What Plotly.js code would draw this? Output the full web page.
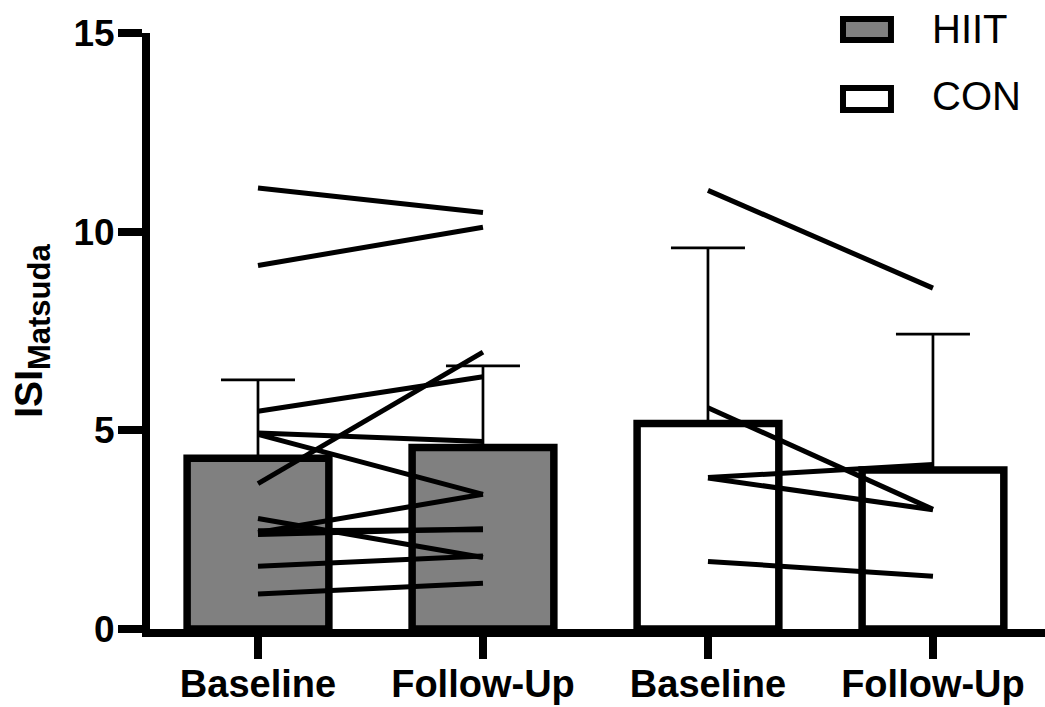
<!DOCTYPE html>
<html>
<head>
<meta charset="utf-8">
<script src="https://cdn.plot.ly/plotly-3.0.1.min.js"></script>
<style>html,body{margin:0;padding:0;background:#fff;}#chart{width:1045px;height:707px;}</style>
</head>
<body>
<div id="chart"></div>
<script>
// ---- data ----
const tickLabels = ['Baseline', 'Follow-Up', 'Baseline', 'Follow-Up'];
const groups = ['HIIT', 'CON'];
const hiitMean = [4.3, 4.57];
const hiitErr = [1.97, 2.05];
const conMean = [5.17, 4.0];
const conErr = [4.42, 3.42];
const hiitBaseline = [11.1, 9.15, 5.48, 4.93, 4.9, 3.66, 2.78, 2.43, 2.47, 2.38, 1.58, 0.88];
const hiitFollowUp = [10.48, 10.11, 6.35, 4.72, 3.39, 6.97, 1.80, 3.39, 2.5, 2.52, 1.84, 1.15];
const conBaseline = [11.04, 5.57, 3.81, 3.8, 1.7];
const conFollowUp = [8.58, 3.01, 4.14, 3.0, 1.33];

const FONT = 'Arial, "Liberation Sans", sans-serif';
const barW = 0.63;

function pairs(b, f, x0, x1) {
  const xs = [], ys = [];
  for (let i = 0; i < b.length; i++) {
    xs.push(x0, x1, null);
    ys.push(b[i], f[i], null);
  }
  return {xs, ys};
}
const hp = pairs(hiitBaseline, hiitFollowUp, 0, 1);
const cp = pairs(conBaseline, conFollowUp, 2, 3);

const traces = [
  {
    type: 'bar', name: groups[0], x: [0, 1], y: hiitMean, width: barW,
    marker: {color: '#808080', line: {color: '#000', width: 7.5}},
    error_y: {type: 'data', symmetric: false, array: hiitErr, arrayminus: [0, 0],
      color: '#000', thickness: 2.7, width: 37},
    showlegend: false, cliponaxis: false
  },
  {
    type: 'bar', name: groups[1], x: [2, 3], y: conMean, width: barW,
    marker: {color: '#ffffff', line: {color: '#000', width: 7.5}},
    error_y: {type: 'data', symmetric: false, array: conErr, arrayminus: [0, 0],
      color: '#000', thickness: 2.7, width: 37},
    showlegend: false, cliponaxis: false
  },
  {
    type: 'scatter', mode: 'lines', x: hp.xs, y: hp.ys, connectgaps: false,
    line: {color: '#000', width: 5}, showlegend: false, cliponaxis: false, hoverinfo: 'skip'
  },
  {
    type: 'scatter', mode: 'lines', x: cp.xs, y: cp.ys, connectgaps: false,
    line: {color: '#000', width: 5}, showlegend: false, cliponaxis: false, hoverinfo: 'skip'
  }
];

// legend (drawn as decoration in paper coordinates)
const shapes = [
  {type: 'rect', xref: 'paper', yref: 'paper', x0: 0.7743, x1: 0.8279, y0: 0.9883, y1: 1.0235,
    line: {color: '#000', width: 6}, fillcolor: '#808080'},
  {type: 'rect', xref: 'paper', yref: 'paper', x0: 0.7743, x1: 0.8279, y0: 0.8708, y1: 0.9077,
    line: {color: '#000', width: 6}, fillcolor: '#ffffff'}
];
const annotations = [
  {xref: 'paper', yref: 'paper', x: 0.8715, y: 1.0075, xanchor: 'left', yanchor: 'middle',
    text: groups[0], showarrow: false, font: {family: FONT, size: 40, color: '#000'}},
  {xref: 'paper', yref: 'paper', x: 0.8715, y: 0.8943, xanchor: 'left', yanchor: 'middle',
    text: groups[1], showarrow: false, font: {family: FONT, size: 40, color: '#000'}}
];

const layout = {
  width: 1045, height: 707,
  margin: {l: 150, r: 0, t: 33, b: 78},
  paper_bgcolor: '#fff', plot_bgcolor: '#fff',
  bargap: 0,
  showlegend: false,
  font: {family: FONT, color: '#000'},
  xaxis: {
    range: [-0.48, 3.498], tickvals: [0, 1, 2, 3], ticktext: tickLabels,
    showline: true, linecolor: '#000', linewidth: 8,
    ticks: 'outside', ticklen: 22, tickwidth: 8, tickcolor: '#000',
    ticklabelstandoff: -8,
    tickfont: {family: FONT, size: 38, weight: 700, color: '#000'},
    showgrid: false, zeroline: false, fixedrange: true
  },
  yaxis: {
    range: [0, 15], tickvals: [0, 5, 10, 15],
    showline: true, linecolor: '#000', linewidth: 8,
    ticks: 'outside', ticklen: 24, tickwidth: 8, tickcolor: '#000',
    ticklabelstandoff: -4,
    tickfont: {family: FONT, size: 37, weight: 700, color: '#000'},
    showgrid: false, zeroline: false, fixedrange: true,
    title: {text: 'ISI<sub><span style="font-size:31px">Matsuda</span></sub>',
      font: {family: FONT, size: 39, weight: 700, color: '#000'}, standoff: 22}
  },
  shapes: shapes,
  annotations: annotations
};

Plotly.newPlot('chart', traces, layout, {displayModeBar: false, staticPlot: true});
</script>
</body>
</html>
